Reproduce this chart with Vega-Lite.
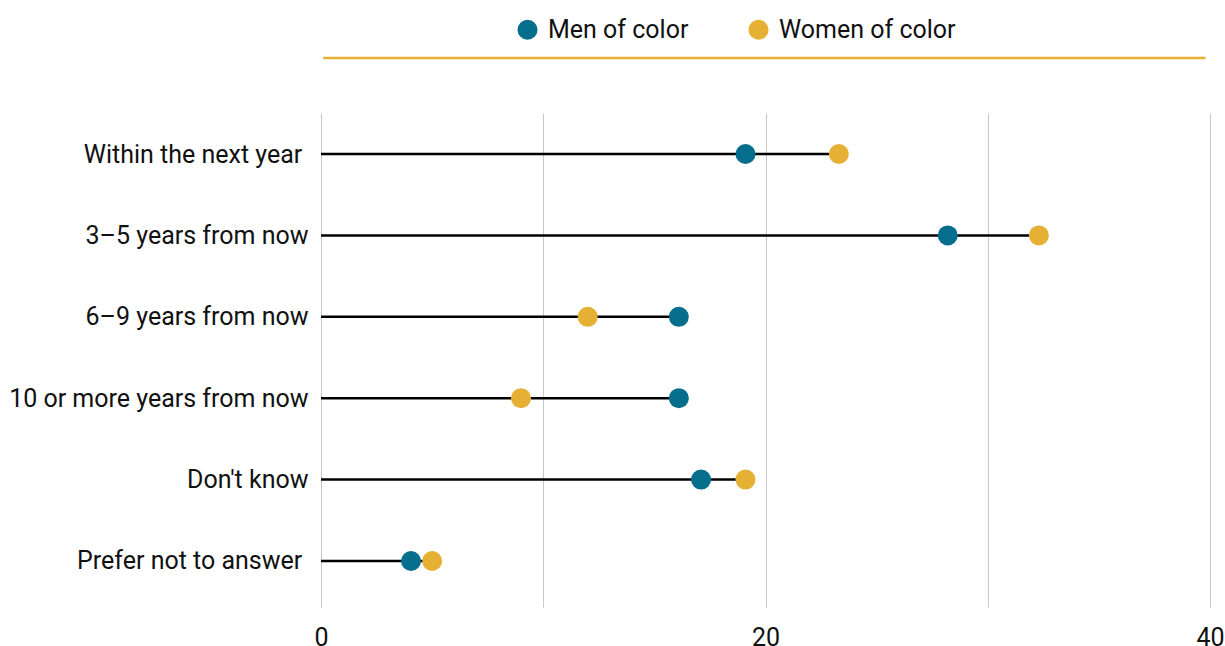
{
  "$schema": "https://vega.github.io/schema/vega-lite/v6.json",
  "autosize": "none",
  "width": 889,
  "height": 489,
  "padding": {"left": 321, "top": 113, "right": 15, "bottom": 44},
  "background": "white",
  "config": {
    "font": "Roboto",
    "view": {"stroke": null}
  },
  "data": {
    "values": [
      {"category": "Within the next year\u00a0\u200b", "group": "Men of color", "value": 19.1},
      {"category": "Within the next year\u00a0\u200b", "group": "Women of color", "value": 23.3},
      {"category": "3\u20135 years from now", "group": "Men of color", "value": 28.2},
      {"category": "3\u20135 years from now", "group": "Women of color", "value": 32.3},
      {"category": "6\u20139 years from now", "group": "Men of color", "value": 16.1},
      {"category": "6\u20139 years from now", "group": "Women of color", "value": 12.0},
      {"category": "10 or more years from now", "group": "Men of color", "value": 16.1},
      {"category": "10 or more years from now", "group": "Women of color", "value": 9.0},
      {"category": "Don't know", "group": "Men of color", "value": 17.1},
      {"category": "Don't know", "group": "Women of color", "value": 19.1},
      {"category": "Prefer not to answer\u00a0\u200b", "group": "Men of color", "value": 4.05},
      {"category": "Prefer not to answer\u00a0\u200b", "group": "Women of color", "value": 5.0}
    ]
  },
  "layer": [
    {
      "transform": [
        {"aggregate": [{"op": "max", "field": "value", "as": "maxv"}], "groupby": ["category"]}
      ],
      "mark": {"type": "rule", "color": "#000000", "strokeWidth": 2.5},
      "encoding": {
        "y": {
          "field": "category",
          "type": "nominal",
          "sort": null,
          "scale": {"type": "point", "padding": 0.504},
          "axis": {
            "title": null,
            "domain": false,
            "ticks": false,
            "grid": false,
            "labelFontSize": 25,
            "labelColor": "#111111",
            "labelPadding": 13,
            "labelLimit": 400,
            "labelFont": "Roboto"
          }
        },
        "x": {
          "field": "maxv",
          "type": "quantitative",
          "scale": {"domain": [0, 40], "nice": false},
          "axis": {
            "title": null,
            "values": [0, 10, 20, 30, 40],
            "labelExpr": "datum.value % 20 === 0 ? datum.label : ''",
            "domain": false,
            "ticks": true,
            "tickSize": 5,
            "tickColor": "#c8c8c8",
            "tickWidth": 1,
            "grid": true,
            "gridColor": "#c8c8c8",
            "gridWidth": 1,
            "labelFlush": false,
            "labelFontSize": 25,
            "labelColor": "#111111",
            "labelPadding": 18,
            "labelFont": "Roboto"
          }
        },
        "x2": {"datum": 0}
      }
    },
    {
      "mark": {"type": "circle", "size": 400, "opacity": 1},
      "encoding": {
        "y": {"field": "category", "type": "nominal", "sort": null},
        "x": {"field": "value", "type": "quantitative"},
        "color": {
          "field": "group",
          "type": "nominal",
          "scale": {"domain": ["Men of color", "Women of color"], "range": ["#046e8c", "#e6b035"]},
          "legend": {
            "title": null,
            "orient": "none",
            "direction": "horizontal",
            "legendX": 194,
            "legendY": -96,
            "symbolType": "circle",
            "symbolSize": 400,
            "symbolOpacity": 1,
            "labelFontSize": 25,
            "labelFont": "Roboto",
            "labelColor": "#111111",
            "labelOffset": 8,
            "columnPadding": 57,
            "labelLimit": 300
          }
        }
      }
    },
    {
      "data": {"values": [{"a": 0.1, "b": 39.8}]},
      "mark": {"type": "rule", "color": "#e6b035", "strokeWidth": 2.5},
      "encoding": {
        "x": {"field": "a", "type": "quantitative"},
        "x2": {"field": "b"},
        "y": {"value": -55}
      }
    }
  ]
}
